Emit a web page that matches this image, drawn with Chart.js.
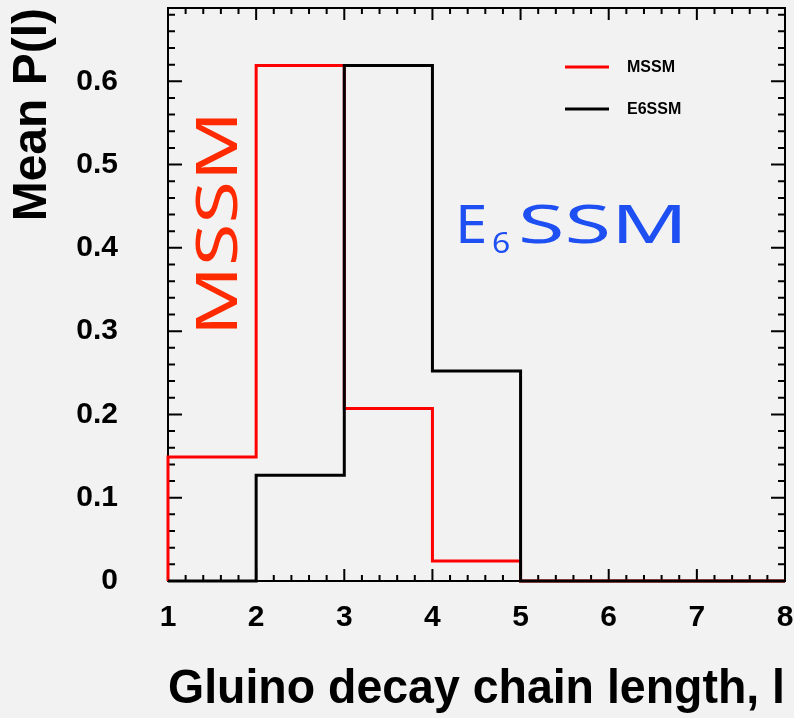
<!DOCTYPE html>
<html>
<head>
<meta charset="utf-8">
<title>Gluino decay chain length</title>
<script src="https://cdn.jsdelivr.net/npm/chart.js@4.4.0/dist/chart.umd.min.js"></script>
<style>
    html, body { margin: 0; padding: 0; background: #f2f2f2; }
    #wrap { width: 794px; height: 718px; }
</style>
</head>
<body>
<div id="wrap"><canvas id="decayChart" width="794" height="718"></canvas></div>
<script>
// Histogram bins (chain length l) and mean P(l) per bin
const binEdges = [1, 2, 3, 4, 5, 6, 7, 8];
const mssmProb = [0.149, 0.619, 0.207, 0.024, 0, 0, 0];
const e6ssmProb = [0, 0.127, 0.619, 0.252, 0, 0, 0];

const seriesNames = ['MSSM', 'E6SSM'];
const seriesColors = ['#ff0000', '#000000'];

const xTickValues = [1, 2, 3, 4, 5, 6, 7, 8];
const yTickValues = [0, 0.1, 0.2, 0.3, 0.4, 0.5, 0.6];
const yMax = 0.688;

const FONT = "'Liberation Sans', Arial, Helvetica, sans-serif";

// turn bin contents into points for a step line
function histPoints(values) {
    const pts = [{ x: binEdges[0], y: 0 }];
    values.forEach(function(v, i) {
        pts.push({ x: binEdges[i], y: v });
    });
    pts.push({ x: binEdges[binEdges.length - 1], y: values[values.length - 1] });
    return pts;
}

// frame with inward ticks on all four sides
const frameTicks = {
    id: 'frameTicks',
    beforeDatasetsDraw(chart) {
        const ctx = chart.ctx;
        const a = chart.chartArea;
        const xs = chart.scales.x;
        const ys = chart.scales.y;
        ctx.save();
        ctx.strokeStyle = '#000';
        ctx.lineWidth = 2;
        ctx.strokeRect(a.left, a.top, a.right - a.left, a.bottom - a.top);

        ctx.beginPath();
        // x: major every 1, minor every 0.2
        for (let v = xs.min; v <= xs.max + 1e-9; v += 0.2) {
            const px = xs.getPixelForValue(v);
            const major = Math.abs(v - Math.round(v)) < 1e-6;
            const len = major ? 12 : 6;
            ctx.moveTo(px, a.bottom); ctx.lineTo(px, a.bottom - len);
            ctx.moveTo(px, a.top); ctx.lineTo(px, a.top + len);
        }
        // y: major every 0.1, minor every 0.02
        for (let i = 0; i * 0.02 <= ys.max + 1e-9; i++) {
            const py = ys.getPixelForValue(i * 0.02);
            const len = i % 5 === 0 ? 14 : 7;
            ctx.moveTo(a.left, py); ctx.lineTo(a.left + len, py);
            ctx.moveTo(a.right, py); ctx.lineTo(a.right - len, py);
        }
        ctx.stroke();
        ctx.restore();
    }
};

// legend box inside the frame
const insideLegend = {
    id: 'insideLegend',
    afterDatasetsDraw(chart) {
        const ctx = chart.ctx;
        ctx.save();
        ctx.font = 'bold 16px ' + FONT;
        ctx.textBaseline = 'middle';
        ctx.textAlign = 'left';
        chart.data.datasets.forEach(function(ds, i) {
            const y = 67 + i * 42;
            ctx.strokeStyle = ds.borderColor;
            ctx.lineWidth = 3;
            ctx.beginPath();
            ctx.moveTo(565, y);
            ctx.lineTo(609, y);
            ctx.stroke();
            ctx.fillStyle = '#000';
            ctx.fillText(ds.label, 627, y + 1);
        });
        ctx.restore();
    }
};

function scribble(ctx, text, x, y, size, color, sx, align) {
    ctx.save();
    ctx.translate(x, y);
    ctx.scale(sx, 1);
    ctx.font = "400 " + size + "px 'Noto Sans', 'DejaVu Sans', sans-serif";
    ctx.textAlign = align || 'left';
    ctx.textBaseline = 'alphabetic';
    ctx.fillStyle = color;
    ctx.fillText(text, 0, 0);
    ctx.restore();
}

// hand-written model names
const modelNotes = {
    id: 'modelNotes',
    afterDatasetsDraw(chart) {
        const ctx = chart.ctx;
        ctx.save();
        ctx.translate(217, 223.5);
        ctx.rotate(-Math.PI / 2);
        scribble(ctx, 'MSSM', 0, 20, 56, '#ff2a00', 1.38, 'center');
        ctx.restore();

        scribble(ctx, 'E', 455, 243, 53, '#1e4ff2', 1.1);
        scribble(ctx, '6', 492, 253, 29, '#1e4ff2', 1.1);
        scribble(ctx, 'SSM', 518, 243, 53, '#1e4ff2', 1.6);
    }
};

// drop the label overhang padding so the frame sits where it is placed
function noOverhang(scale) {
    scale.paddingTop = 0;
    scale.paddingBottom = 0;
    scale.paddingLeft = 0;
    scale.paddingRight = 0;
}

const ctx = document.getElementById('decayChart').getContext('2d');
const decayChart = new Chart(ctx, {
    type: 'line',
    data: {
        datasets: [{
            label: seriesNames[0],
            data: histPoints(mssmProb),
            borderColor: seriesColors[0],
            borderWidth: 3,
            stepped: 'before',
            pointRadius: 0,
            fill: false,
            clip: false,
            order: 2
        }, {
            label: seriesNames[1],
            data: histPoints(e6ssmProb),
            borderColor: seriesColors[1],
            borderWidth: 3,
            stepped: 'before',
            pointRadius: 0,
            fill: false,
            clip: false,
            order: 1
        }]
    },
    options: {
        responsive: false,
        animation: false,
        layout: { padding: { left: 0, top: 8, right: 9, bottom: 0 } },
        plugins: {
            legend: { display: false },
            tooltip: { enabled: false }
        },
        scales: {
            x: {
                type: 'linear',
                min: binEdges[0],
                max: binEdges[binEdges.length - 1],
                afterBuildTicks: function(scale) {
                    scale.ticks = xTickValues.map(v => ({ value: v }));
                },
                afterFit: function(scale) {
                    scale.height = 137;
                    noOverhang(scale);
                },
                // tick marks are hidden; tickLength only spaces the labels
                grid: { display: false, drawTicks: true, tickLength: 16 },
                border: { display: false },
                ticks: {
                    color: '#000',
                    padding: 3,
                    maxRotation: 0,
                    font: { family: FONT, size: 30, weight: 'bold' }
                },
                title: {
                    display: true,
                    text: 'Gluino decay chain length, l',
                    align: 'end',
                    color: '#000',
                    padding: { top: 0, bottom: -1 },
                    font: { family: FONT, size: 48, weight: 'bold' }
                }
            },
            y: {
                min: 0,
                max: yMax,
                afterBuildTicks: function(scale) {
                    scale.ticks = yTickValues.map(v => ({ value: v }));
                },
                afterFit: function(scale) {
                    scale.width = 168;
                    noOverhang(scale);
                },
                grid: { display: false, drawTicks: true, tickLength: 46 },
                border: { display: false },
                ticks: {
                    color: '#000',
                    padding: 4,
                    font: { family: FONT, size: 30, weight: 'bold' },
                    callback: function(value) {
                        return value === 0 ? '0' : value.toFixed(1);
                    }
                },
                title: {
                    display: true,
                    text: 'Mean P(l)',
                    align: 'end',
                    color: '#000',
                    padding: { top: 4, bottom: 0 },
                    font: { family: FONT, size: 48, weight: 'bold' }
                }
            }
        }
    },
    plugins: [frameTicks, insideLegend, modelNotes]
});
</script>
</body>
</html>
